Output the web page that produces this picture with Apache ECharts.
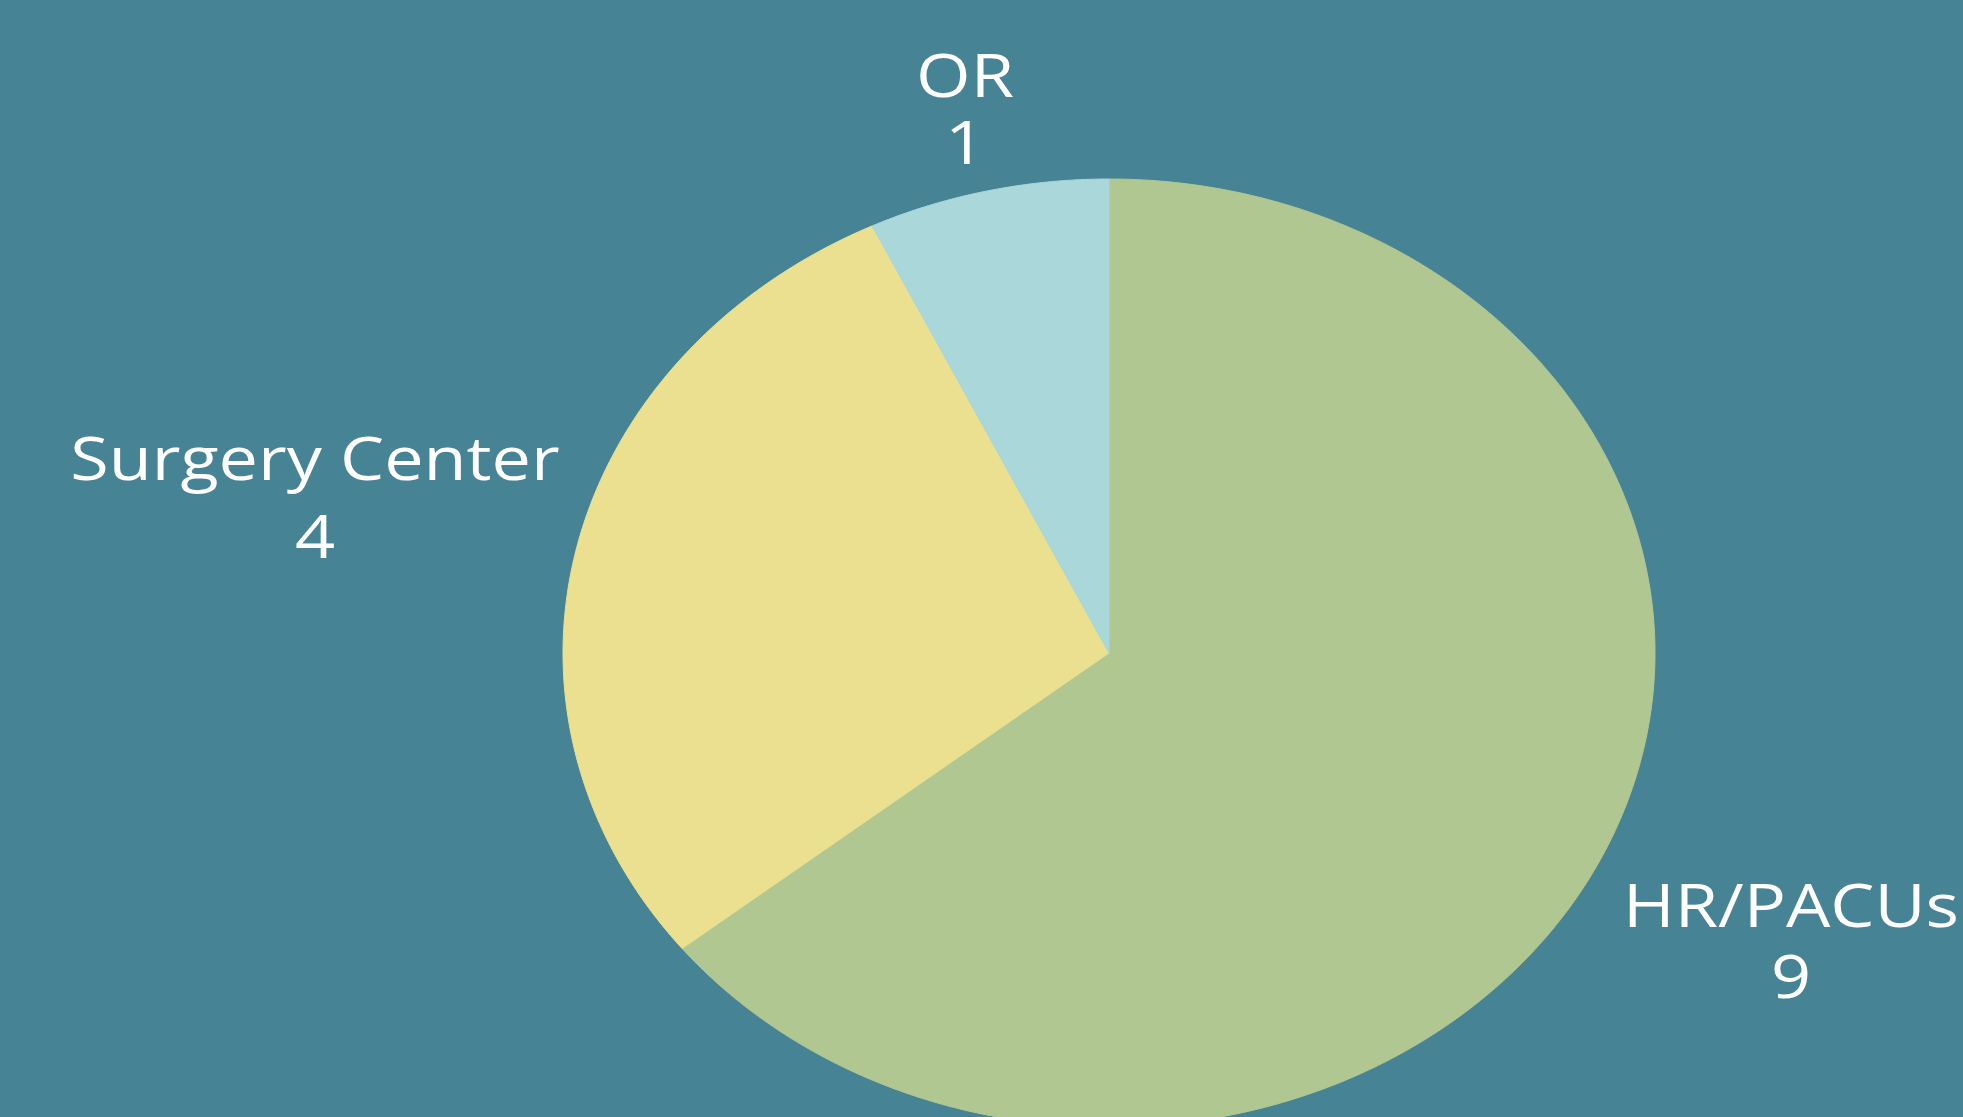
<!DOCTYPE html>
<html>
<head>
<meta charset="utf-8">
<script src="https://cdn.jsdelivr.net/npm/echarts@6/dist/echarts.min.js"></script>
<style>
html,body{margin:0;padding:0;background:#468395;}
#chart{width:1963px;height:1117px;}
</style>
</head>
<body>
<div id="chart"></div>
<script>
// ---- data ----
const categories = ['HR/PACUs', 'Surgery Center', 'OR'];
const values = [9, 4, 1];

// ---- style / layout (kept separate from data) ----
const sliceColors = ['#B1C792', '#EBE08F', '#A9D7DA'];
const bgColor = '#468395';
const pieLayout = { cx: 1109 / 1963, cy: 653 / 1117, rx: 546 / 1963, ry: 474 / 1117 };
// label anchors: [x centre, y of name line, y of value line] as fractions of width/height
const labelAnchors = [
  [1791 / 1963, 910 / 1117, 981 / 1117],
  [315 / 1963, 463 / 1117, 541 / 1117],
  [965 / 1963, 80 / 1117, 147 / 1117]
];
const fontFamily = '"Open Sans", "Noto Sans", sans-serif';
const fontSize = 61;
const textStretch = 1.15;

const total = values.reduce((a, b) => a + b, 0);

const chart = echarts.init(document.getElementById('chart'));

function labelText(str, x, y) {
  return {
    type: 'text',
    x: x, y: y, scaleX: textStretch,
    style: {
      text: str, x: 0, y: 0,
      fill: '#ffffff', fontSize: fontSize, fontFamily: fontFamily,
      align: 'center', verticalAlign: 'middle'
    }
  };
}

function renderItem(params, api) {
  const i = params.dataIndex;
  const W = api.getWidth(), H = api.getHeight();
  const cx = pieLayout.cx * W, cy = pieLayout.cy * H;
  const rx = pieLayout.rx * W, ry = pieLayout.ry * H;
  let before = 0;
  for (let k = 0; k < i; k++) before += values[k];
  const v = api.value(0);
  const a0 = Math.PI / 2 - 2 * Math.PI * before / total;
  const a1 = Math.PI / 2 - 2 * Math.PI * (before + v) / total;
  const steps = Math.max(8, Math.ceil(Math.abs(a1 - a0) / (Math.PI / 360)));
  const pts = [[cx, cy]];
  for (let s = 0; s <= steps; s++) {
    const a = a0 + (a1 - a0) * s / steps;
    pts.push([cx + rx * Math.cos(a), cy - ry * Math.sin(a)]);
  }
  const color = api.visual('color');
  const la = labelAnchors[i];
  return {
    type: 'group',
    children: [
      {
        type: 'polygon',
        shape: { points: pts },
        style: { fill: color, stroke: color, lineWidth: 1 }
      },
      labelText(categories[i], la[0] * W, la[1] * H),
      labelText(String(v), la[0] * W, la[2] * H)
    ]
  };
}

chart.setOption({
  backgroundColor: bgColor,
  animation: false,
  series: [{
    type: 'custom',
    coordinateSystem: 'none',
    renderItem: renderItem,
    data: values.map((v, i) => ({ name: categories[i], value: v, itemStyle: { color: sliceColors[i] } }))
  }]
});
</script>
</body>
</html>
